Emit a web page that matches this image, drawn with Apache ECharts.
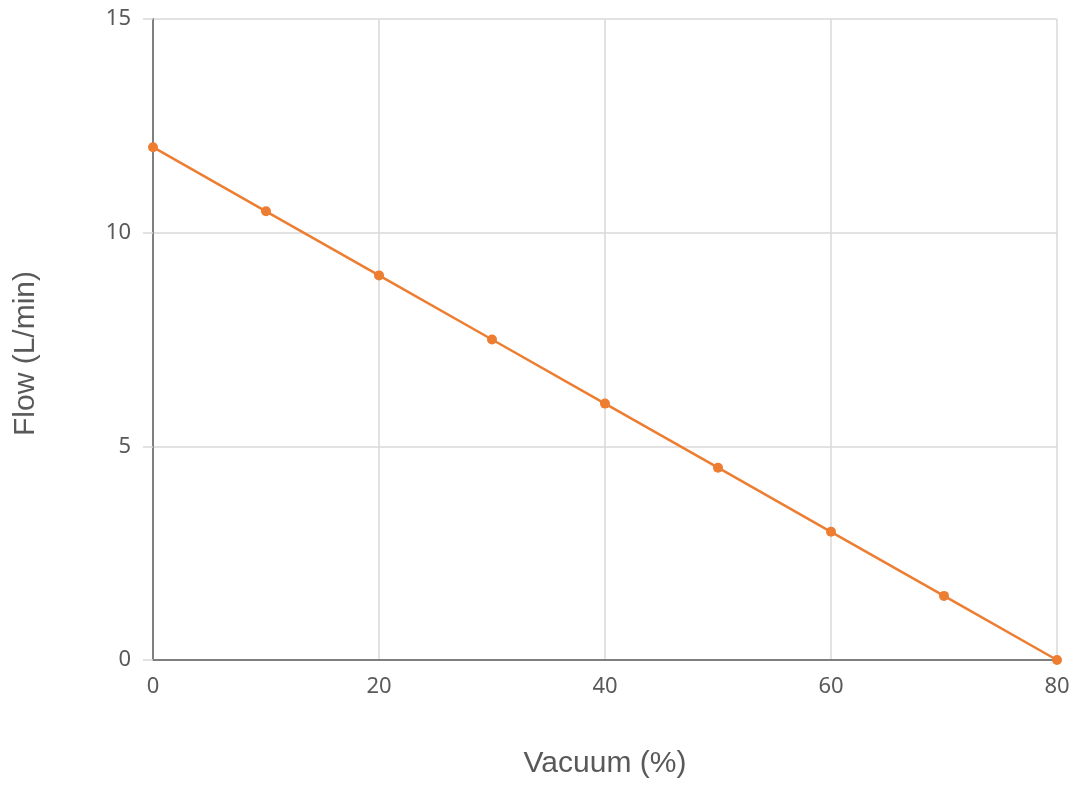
<!DOCTYPE html>
<html>
<head>
<meta charset="utf-8">
<script src="https://cdn.jsdelivr.net/npm/echarts@6/dist/echarts.min.js"></script>
<style>
  html, body { margin: 0; padding: 0; background: #fff; }
  #chart { width: 1082px; height: 788px; }
</style>
</head>
<body>
<div id="chart"></div>
<script>
// Data
const vacuum = [0, 10, 20, 30, 40, 50, 60, 70, 80];
const flow = [12, 10.5, 9, 7.5, 6, 4.5, 3, 1.5, 0];

const chart = echarts.init(document.getElementById('chart'));

const option = {
  animation: false,
  grid: { left: 153, right: 25, top: 19, bottom: 128, outerBoundsMode: 'none', containLabel: false },
  xAxis: {
    type: 'value',
    min: 0,
    max: 80,
    interval: 20,
    name: 'Vacuum (%)',
    nameLocation: 'middle',
    nameGap: 89,
    nameTextStyle: { fontFamily: 'Liberation Sans', fontSize: 30, color: '#595959' },
    axisLine: { lineStyle: { color: '#7f7f7f', width: 2 } },
    axisTick: { show: false },
    axisLabel: { fontFamily: 'Noto Sans', fontSize: 22, color: '#595959', margin: 16 },
    splitLine: { show: true, lineStyle: { color: '#d9d9d9', width: 1.5 } }
  },
  yAxis: {
    type: 'value',
    min: 0,
    max: 15,
    interval: 5,
    name: 'Flow (L/min)',
    nameLocation: 'middle',
    nameGap: 112,
    nameTextStyle: { fontFamily: 'Liberation Sans', fontSize: 30, color: '#595959', padding: [0, 28, 0, 0] },
    axisLine: { show: true, lineStyle: { color: '#7f7f7f', width: 2 } },
    axisTick: { show: true, length: 10, lineStyle: { color: '#d9d9d9', width: 1.5 } },
    axisLabel: { fontFamily: 'Noto Sans', fontSize: 22, color: '#595959', margin: 22 },
    splitLine: { show: true, lineStyle: { color: '#d9d9d9', width: 1.5 } }
  },
  series: [
    {
      type: 'line',
      data: vacuum.map((v, i) => [v, flow[i]]),
      symbol: 'circle',
      symbolSize: 10,
      lineStyle: { color: '#ed7d31', width: 2.5 },
      itemStyle: { color: '#ed7d31' }
    }
  ]
};

chart.setOption(option);
</script>
</body>
</html>
